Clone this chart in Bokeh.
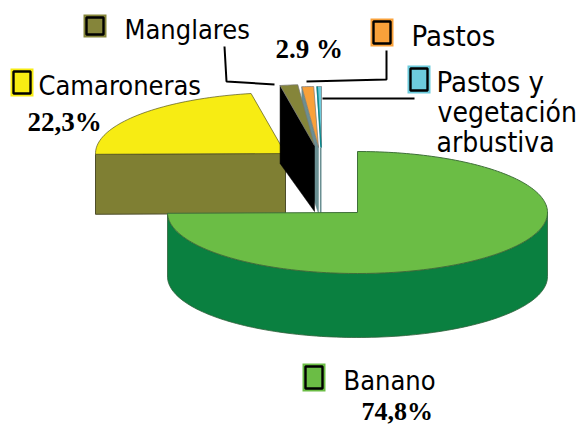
import numpy as np
from bokeh.plotting import figure
from bokeh.models import Range1d
from bokeh.core.properties import value
from bokeh.embed import file_html
from bokeh.resources import INLINE

# ---- data (percent of the pie, clockwise from 12 o'clock)
categories = ["Banano", "Camaroneras", "Manglares", "Pastos", "Pastos y vegetación arbustiva"]
shares = [74.8, 22.3, 1.5, 1.0, 0.4]
share_labels = ["74,8%", "22,3%", "2.9 %"]

top_colors = ["#6bbd45", "#f7ec13", "#85853a", "#f9a13a", "#6dcbdc"]
side_colors = ["#0a8040", "#7f7f33", "#000000", "#6a8f92", "#6a8f92"]

# ---- layout (page pixels, the figure's scales map them 1:1)
W, H = 582, 425
CX, CY = 357.0, 212.0      # pie centre
RX, RY = 190.0, 61.0       # ellipse radii
DEPTH = 64.0
# apex shift of each exploded slice
shift_x = [0, -72, -43, -39, -36]
shift_y = [0, -59, -67, -65, -65]
rim_depth = [DEPTH, 60, 78, 78, 0]

p = figure(width=W, height=H, output_backend="svg", toolbar_location=None,
           x_range=Range1d(0, W), y_range=Range1d(H, 0),
           min_border=0, outline_line_color=None)
p.axis.visible = False
p.grid.visible = False
p.background_fill_color = "white"
p.border_fill_color = "white"

edges = np.concatenate([[0], np.cumsum(shares)]) / sum(shares) * 2 * np.pi


def rim(a, cx, cy):
    return cx + RX * np.sin(a), cy - RY * np.cos(a)


# ---- Camaroneras: cut face + top
cx, cy = CX + shift_x[1], CY + shift_y[1]
a0, a1 = edges[1], edges[2]
rx0, ry0 = rim(a0, cx, cy)
p.patch([rx0, cx, cx, rx0], [ry0, cy, cy + rim_depth[1], ry0 + rim_depth[1]],
        fill_color=side_colors[1], line_color="#4d4d2a", line_width=1)
aa = np.linspace(a0, a1, 50)
xs, ys = rim(aa, cx, cy)
p.patch(np.r_[cx, xs], np.r_[cy, ys], fill_color=top_colors[1], line_color="#55551f", line_width=0.7)

# ---- thin exploded slices, cut faces first
for i in [3, 2]:
    cx, cy = CX + shift_x[i], CY + shift_y[i]
    rx0, ry0 = rim(edges[i], cx, cy)
    p.patch([rx0, rx0, cx, cx], [ry0, ry0 + rim_depth[i], cy + DEPTH + 2, cy],
            fill_color=side_colors[i], line_color=side_colors[i], line_width=0.5)
for i in [2, 3, 4]:
    cx, cy = CX + shift_x[i], CY + shift_y[i]
    if i == 4:
        p.line([cx - 0.8, cx - 0.8], [cy, cy + DEPTH + 2], line_color=side_colors[4], line_width=1.6)
    aa = np.linspace(edges[i], edges[i + 1], 6)
    xs, ys = rim(aa, cx, cy)
    p.patch(np.r_[cx, xs], np.r_[cy, ys], fill_color=top_colors[i], line_color="#777777", line_width=0.7)
    if i == 4:
        rx0, ry0 = rim(edges[4], cx, cy)
        p.line([rx0 + 0.5, cx - 0.5], [ry0, cy], line_color="#0a8a8f", line_width=1.5)

# ---- Banano: wall + top
aa = np.linspace(np.pi / 2, edges[1], 120)
xs, ys = rim(aa, CX, CY)
p.patch(np.r_[xs, xs[::-1]], np.r_[ys, ys[::-1] + DEPTH],
        fill_color=side_colors[0], line_color="#2f5f3a", line_width=0.8)
aa = np.linspace(edges[0], edges[1], 200)
xs, ys = rim(aa, CX, CY)
p.patch(np.r_[CX, xs], np.r_[CY, ys], fill_color=top_colors[0], line_color="#3f6f3a", line_width=1)

# ---- leader lines
leaders = [([224, 226, 274], [46, 81, 84]),
           ([386, 386, 306], [50, 79, 81]),
           ([322, 414], [98, 98])]
for lx, ly in leaders:
    p.line(lx, ly, line_color="black", line_width=2)

# ---- legend swatches
sw_order = [2, 1, 3, 4, 0]
sw_x = [83, 10, 370, 407, 302]
sw_y = [14, 68, 18, 65, 363]
sw_w = [23, 23, 23, 23, 23]
sw_h = [23, 28, 28, 28, 28]
for k, i in enumerate(sw_order):
    x0, y0, w, h = sw_x[k], sw_y[k], sw_w[k], sw_h[k]
    p.quad(left=x0, right=x0 + w, top=y0, bottom=y0 + h, fill_color=top_colors[i], line_color=None)
    p.quad(left=x0 + 3, right=x0 + w - 3, top=y0 + 3, bottom=y0 + h - 3,
           fill_color=top_colors[i], line_color="black", line_width=2.4)

# ---- texts
name_font = value("DejaVu Sans Condensed")
pct_font = value("Liberation Serif")
TEXT_SHIFT = 8
names = [("Manglares", 124, 37, 27), ("Camaroneras", 38, 93, 27), ("Pastos", 411, 43, 29),
         ("Pastos y", 436, 89, 29), ("vegetación", 437, 120, 28), ("arbustiva", 436, 150, 28),
         ("Banano", 343, 388, 27)]
for t, x, y, s in names:
    p.text([x], [y - TEXT_SHIFT], text=[t], text_font=name_font, text_font_size=f"{s}px",
           text_color="black", text_baseline="alphabetic", text_align="left")
pct_pos = [(361, 419, 26), (27, 129, 27), (275, 56, 27)]
for t, (x, y, s) in zip(share_labels, pct_pos):
    p.text([x], [y - TEXT_SHIFT], text=[t], text_font=pct_font, text_font_size=f"{s}px",
           text_font_style="bold", text_color="black", text_baseline="alphabetic", text_align="left")

open("out.html", "w").write(file_html(p, INLINE))
